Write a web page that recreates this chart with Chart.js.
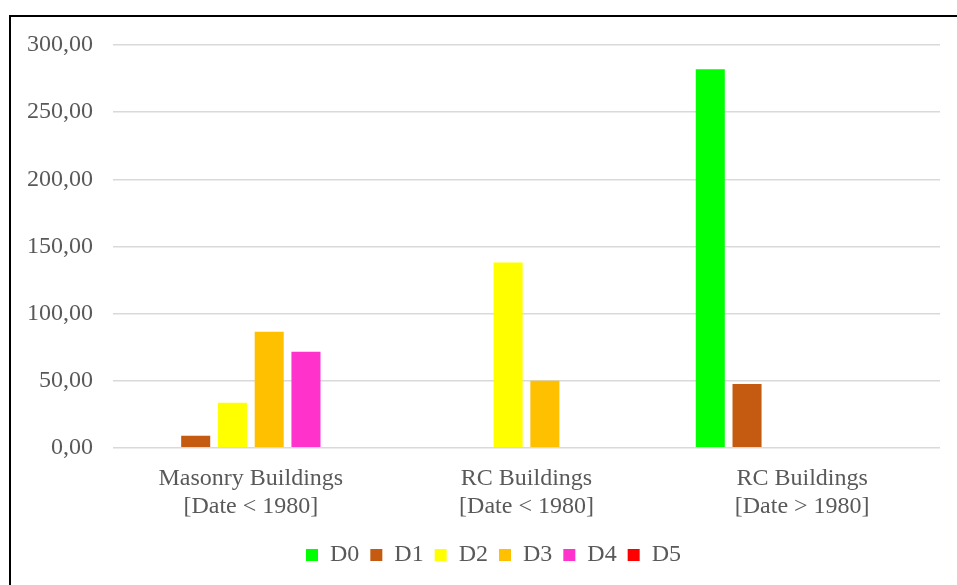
<!DOCTYPE html>
<html lang="en">

<head>
    <meta charset="UTF-8">
    <title>Damage levels by building type</title>
    <style>
        html, body {
            margin: 0;
            padding: 0;
            background: #ffffff;
            overflow: hidden;
        }

        .frame {
            position: absolute;
            left: 9px;
            top: 15px;
            width: 1200px;
            height: 1200px;
            border: 2px solid #000000;
        }

        #chartCanvas {
            position: absolute;
            left: 0;
            top: 0;
        }
    </style>
</head>

<body>
    <div class="frame"></div>
    <canvas id="chartCanvas" width="957" height="585"></canvas>

    <script src="https://cdn.jsdelivr.net/npm/chart.js"></script>
    <script>
        // categorias e valores de cada nível de dano
        const categories = [
            ['Masonry Buildings', '[Date < 1980]'],
            ['RC Buildings', '[Date < 1980]'],
            ['RC Buildings', '[Date > 1980]']
        ];
        const seriesNames = ['D0', 'D1', 'D2', 'D3', 'D4', 'D5'];
        const seriesColors = ['#00ff00', '#c55a11', '#ffff00', '#ffc000', '#ff33cc', '#ff0000'];
        const d0 = [0, 0, 282];
        const d1 = [9, 0, 47.5];
        const d2 = [33.5, 138, 0];
        const d3 = [86.5, 50, 0];
        const d4 = [71.5, 0, 0];
        const d5 = [0, 0, 0];
        const yTicks = [0, 50, 100, 150, 200, 250, 300];

        const seriesValues = [d0, d1, d2, d3, d4, d5];
        const textColor = '#595959';
        const fontFamily = '"Liberation Serif", "Times New Roman", serif';

        // empurra a legenda um pouco para a direita e para baixo
        const legendShift = {
            id: 'legendShift',
            afterLayout(chart) {
                const lg = chart.legend;
                lg.left += 20;
                lg.right += 20;
                lg.top += 2;
                lg.bottom += 2;
            }
        };

        const ctx = document.getElementById('chartCanvas').getContext('2d');

        const chart = new Chart(ctx, {
            type: 'bar',
            data: {
                labels: categories,
                datasets: seriesNames.map((name, i) => ({
                    label: name,
                    data: seriesValues[i],
                    backgroundColor: seriesColors[i],
                    borderWidth: 0
                }))
            },
            options: {
                responsive: false,
                animation: false,
                categoryPercentage: 0.8,
                barPercentage: 0.79,
                layout: {
                    padding: { left: 7, right: 17, top: 45, bottom: 10 }
                },
                scales: {
                    x: {
                        grid: { display: false },
                        border: { display: false },
                        ticks: {
                            color: textColor,
                            font: { family: fontFamily, size: 24, lineHeight: 1.17 },
                            padding: 9,
                            maxRotation: 0
                        }
                    },
                    y: {
                        min: 0,
                        max: 300,
                        afterBuildTicks: (axis) => {
                            axis.ticks = yTicks.map(v => ({ value: v }));
                        },
                        grid: {
                            color: '#d9d9d9',
                            lineWidth: 1.5,
                            drawTicks: false
                        },
                        border: { display: false },
                        ticks: {
                            color: textColor,
                            font: { family: fontFamily, size: 24 },
                            padding: 20,
                            callback: (v) => v.toFixed(2).replace('.', ',')
                        }
                    }
                },
                plugins: {
                    legend: {
                        position: 'bottom',
                        labels: {
                            color: textColor,
                            font: { family: fontFamily, size: 24 },
                            boxWidth: 12,
                            boxHeight: 12,
                            padding: 11
                        }
                    },
                    tooltip: { enabled: false }
                }
            },
            plugins: [legendShift]
        });
    </script>
</body>

</html>
